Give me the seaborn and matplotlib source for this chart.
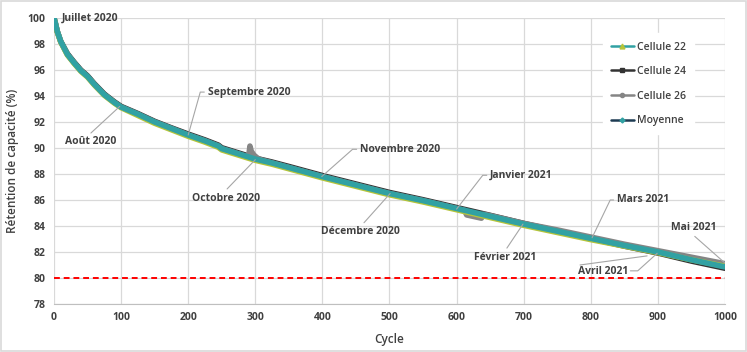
import numpy as np
import pandas as pd
import seaborn as sns
import matplotlib.pyplot as plt
from matplotlib.lines import Line2D
from matplotlib.patches import Rectangle

# cycles / capacity retention (%)
cycles = [0, 2, 5, 10, 20, 30, 40, 50, 60, 75, 90, 100, 125, 150, 175, 200, 225, 245,
          250, 275, 300, 325, 350, 400, 450, 500, 550, 600, 650, 700, 750, 800, 850,
          900, 950, 1000]
moyenne = [100.0, 99.6, 98.95, 98.2, 97.2, 96.55, 95.95, 95.5, 94.9, 94.1, 93.5, 93.15,
           92.6, 92.0, 91.5, 91.0, 90.55, 90.15, 89.95, 89.55, 89.15, 88.85, 88.5, 87.8,
           87.15, 86.5, 85.95, 85.35, 84.75, 84.15, 83.6, 83.05, 82.5, 82.0, 81.4, 80.85]
cell24 = [100.0, 99.6, 98.95, 98.2, 97.25, 96.6, 96.0, 95.55, 94.95, 94.15, 93.55, 93.2,
          92.65, 92.05, 91.55, 91.07, 90.62, 90.22, 90.02, 89.62, 89.22, 88.92, 88.58,
          87.88, 87.23, 86.58, 86.02, 85.42, 84.82, 84.2, 83.62, 83.03, 82.45, 81.92,
          81.3, 80.75]
cell22 = [100.0, 99.55, 98.9, 98.15, 97.15, 96.5, 95.9, 95.45, 94.85, 94.05, 93.45, 93.1,
          92.5, 91.9, 91.4, 90.9, 90.45, 90.05, 89.85, 89.45, 89.05, 88.75, 88.4, 87.7,
          87.05, 86.4, 85.85, 85.25, 84.65, 84.05, 83.5, 82.95, 82.45, 81.95, 81.4, 80.9]
cycles26 = [0, 2, 5, 10, 20, 30, 40, 50, 60, 75, 90, 100, 125, 150, 175, 200, 225, 245,
            250, 275, 290, 292, 294, 298, 305, 325, 350, 400, 450, 500, 550, 600, 612,
            615, 637, 640, 650, 700, 750, 800, 850, 900, 950, 1000]
cell26 = [100.0, 99.6, 98.95, 98.2, 97.2, 96.55, 95.95, 95.5, 94.9, 94.1, 93.5, 93.15,
          92.6, 92.0, 91.5, 91.0, 90.55, 90.15, 89.95, 89.55, 89.3, 90.15, 89.75, 89.45,
          89.15, 88.85, 88.5, 87.8, 87.15, 86.5, 85.95, 85.35, 85.2, 84.85, 84.6, 84.9,
          84.8, 84.2, 83.7, 83.15, 82.6, 82.1, 81.6, 81.1]

seuil = 80

# month labels: text, text position, alignment, leader path
labels = [
    ("Juillet 2020", (12, 100.0), 'left', []),
    ("Août 2020", (55, 90.5), 'center', [(98, 93.2), (55, 91.15)]),
    ("Septembre 2020", (229, 94.3), 'left', [(200, 91.0), (218, 94.3), (224, 94.3)]),
    ("Octobre 2020", (256, 86.15), 'center', [(300, 89.1), (258, 86.85)]),
    ("Novembre 2020", (456, 89.9), 'left', [(399, 87.8), (445, 89.9), (451, 89.9)]),
    ("Décembre 2020", (457, 83.55), 'center', [(501, 86.5), (462, 84.25)]),
    ("Janvier 2021", (650, 87.9), 'left', [(600, 85.3), (639, 87.9), (645, 87.9)]),
    ("Février 2021", (673, 81.6), 'center', [(699, 84.15), (675, 82.3)]),
    ("Mars 2021", (839, 86.0), 'left', [(802, 83.1), (829, 86.0), (834, 86.0)]),
    ("Avril 2021", (818, 80.5), 'center', [(899, 81.9), (870, 80.55), (859, 80.55)]),
    ("Mai 2021", (954, 83.85), 'center', [(1000, 81.15), (955, 83.2)]),
]
avril_extra = [(784, 81.0), (884, 81.7)]

sns.set_style('whitegrid')
plt.rcParams['font.family'] = ['Open Sans', 'DejaVu Sans']

df = pd.concat([
    pd.DataFrame({'Cycle': cycles, 'val': cell24, 'serie': 'Cellule 24'}),
    pd.DataFrame({'Cycle': cycles26, 'val': cell26, 'serie': 'Cellule 26'}),
    pd.DataFrame({'Cycle': cycles, 'val': cell22, 'serie': 'Cellule 22'}),
    pd.DataFrame({'Cycle': cycles, 'val': moyenne, 'serie': 'Moyenne'}),
])

teal = '#31a1a3'
pal = {'Cellule 24': '#333333', 'Cellule 26': '#858585',
       'Cellule 22': '#b5c43a', 'Moyenne': teal}

fig = plt.figure(figsize=(7.47, 3.52), dpi=100)
ax = fig.add_axes([0.0723, 0.1364, 0.8982, 0.8125])

sns.lineplot(data=df, x='Cycle', y='val', hue='serie', palette=pal,
             hue_order=['Cellule 24', 'Cellule 26', 'Cellule 22', 'Moyenne'],
             linewidth=4, ax=ax, legend=False, sort=False, estimator=None)

ax.axhline(seuil, color='#ff0000', ls=(0, (3, 2)), lw=1.4, zorder=3)

ax.set_xlim(0, 1000)
ax.set_ylim(78, 100)
ax.set_xticks(range(0, 1001, 100))
ax.set_yticks(range(78, 101, 2))
ax.grid(True, color='#d9d9d9', lw=0.9)
for s in ['left', 'top', 'right']:
    ax.spines[s].set_visible(False)
ax.spines['bottom'].set_color('#bfbfbf')
ax.tick_params(length=0, labelsize=7.5, labelcolor='#404040', pad=6)
for t in ax.get_xticklabels() + ax.get_yticklabels():
    t.set_fontweight('bold')

ax.set_xlabel('Cycle', fontsize=8.5, fontweight='semibold', color='#404040', labelpad=7)
ax.set_ylabel('Rétention de capacité (%)', fontsize=8.5, fontweight='semibold',
              color='#404040', labelpad=6)

for txt, (tx, ty), ha, path in labels:
    ax.text(tx, ty, txt, ha=ha, va='center', fontsize=7.5, fontweight='bold',
            color='#404040', zorder=6)
    if path:
        xs, ys = zip(*path)
        ax.plot(xs, ys, color='#a6a6a6', lw=0.8, zorder=5)
xs, ys = zip(*avril_extra)
ax.plot(xs, ys, color='#a6a6a6', lw=0.8, zorder=5)

handles = [
    Line2D([], [], color=teal, lw=1.8, marker='^', ms=3.5, mfc='#b5c43a', mec='#b5c43a'),
    Line2D([], [], color='#333333', lw=1.8, marker='s', ms=3.5),
    Line2D([], [], color='#858585', lw=1.8, marker='o', ms=3),
    Line2D([], [], color='#1d3b52', lw=1.8, marker='D', ms=2.5, mfc=teal, mec=teal),
]
leg = ax.legend(handles, ['Cellule 22', 'Cellule 24', 'Cellule 26', 'Moyenne'],
                loc='upper left', bbox_to_anchor=(0.81, 0.965), frameon=True,
                facecolor='white', edgecolor='white', framealpha=1, fancybox=False,
                fontsize=7.5, labelspacing=1.3, handlelength=2.2, handletextpad=0.3,
                borderpad=0.8)
for t in leg.get_texts():
    t.set_fontweight('semibold')
    t.set_color('#404040')
leg.set_zorder(7)

fig.add_artist(Rectangle((0.001, 0.002), 0.997, 0.995, transform=fig.transFigure,
                         fill=False, edgecolor='#d9d9d9', lw=1.2))

plt.savefig('out.png', dpi=100)
plt.close()
